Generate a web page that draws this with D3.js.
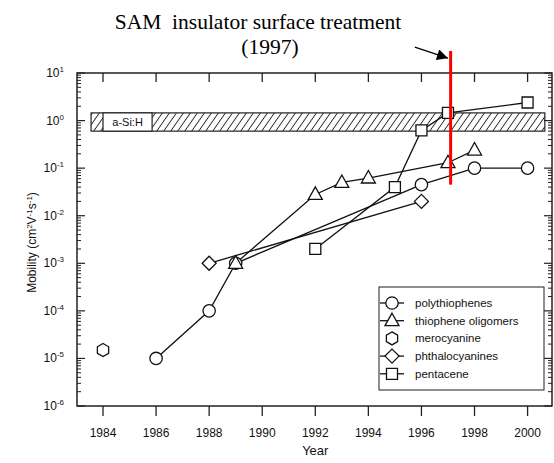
<!DOCTYPE html>
<html><head><meta charset="utf-8">
<script src="https://cdn.jsdelivr.net/npm/d3@7"></script>
<style>body{margin:0;background:#fff}svg{display:block}</style>
</head><body>
<svg id="c" width="554" height="463"></svg>
<script>
// ---- data ----
const polyYears = [1986, 1988, 1989, 1996, 1998, 2000];
const polyVals  = [1e-5, 1e-4, 1e-3, 4.5e-2, 0.1, 0.1];
const oligoYears = [1989, 1992, 1993, 1994, 1997, 1998];
const oligoVals  = [1e-3, 2.8e-2, 5e-2, 6.2e-2, 0.13, 0.24];
const meroYears = [1984];
const meroVals  = [1.5e-5];
const phthYears = [1988, 1996];
const phthVals  = [1e-3, 2e-2];
const pentYears = [1992, 1995, 1996, 1997, 2000];
const pentVals  = [2e-3, 4e-2, 0.62, 1.45, 2.4];
const seriesNames = ["polythiophenes", "thiophene oligomers", "merocyanine", "phthalocyanines", "pentacene"];
const xTicks = [1984, 1986, 1988, 1990, 1992, 1994, 1996, 1998, 2000];
const yExps = [-6, -5, -4, -3, -2, -1, 0, 1];
const bandYears = [1983.55, 2000.65];
const bandVals = [0.6, 1.45];
const bandLabel = "a-Si:H";
const bandLabelYears = [1984.0, 1985.85];
const samYear = 1997.1;
const samVals = [0.045, 29];
const arrowFrom = [1995.75, 35];
const arrowTo = [1997.0, 20.5];
const titleLines = ["SAM  insulator surface treatment", "(1997)"];

// ---- layout ----
const L = 77, R = 552, T = 73, B = 406;
const svg = d3.select("#c");
const x = d3.scaleLinear().domain([1983.02, 2000.92]).range([L, R]);
const y = d3.scaleLog().domain([1e-6, 10]).range([B, T]);
const sans = "'Liberation Sans', Arial, sans-serif";
const ink = "#111";

// hatch pattern
const defs = svg.append("defs");
const pat = defs.append("pattern").attr("id", "hatch").attr("patternUnits", "userSpaceOnUse")
  .attr("width", 7).attr("height", 7).attr("patternTransform", "skewX(-35)");
pat.append("rect").attr("width", 7).attr("height", 7).attr("fill", "#fff");
pat.append("line").attr("x1", 3.5).attr("y1", 0).attr("x2", 3.5).attr("y2", 7).attr("stroke", "#222").attr("stroke-width", 1.1);
defs.append("marker").attr("id", "arr").attr("viewBox", "0 0 10 10").attr("refX", 10).attr("refY", 5)
  .attr("markerWidth", 15).attr("markerHeight", 11).attr("markerUnits", "userSpaceOnUse").attr("orient", "auto")
  .append("path").attr("d", "M0,0 L10,5 L0,10 Z").attr("fill", "#000");

// band
svg.append("rect").attr("x", x(bandYears[0])).attr("y", y(bandVals[1]))
  .attr("width", x(bandYears[1]) - x(bandYears[0])).attr("height", y(bandVals[0]) - y(bandVals[1]))
  .attr("fill", "url(#hatch)").attr("stroke", "#222").attr("stroke-width", 1.2);
svg.append("rect").attr("x", x(bandLabelYears[0])).attr("y", y(bandVals[1]))
  .attr("width", x(bandLabelYears[1]) - x(bandLabelYears[0])).attr("height", y(bandVals[0]) - y(bandVals[1]))
  .attr("fill", "#fff").attr("stroke", "#222").attr("stroke-width", 1.2);
svg.append("text").attr("x", (x(bandLabelYears[0]) + x(bandLabelYears[1])) / 2)
  .attr("y", (y(bandVals[0]) + y(bandVals[1])) / 2 + 4).attr("text-anchor", "middle")
  .attr("font-family", sans).attr("font-size", 11).attr("fill", ink).text(bandLabel);

// frame
svg.append("rect").attr("x", L).attr("y", T).attr("width", R - L).attr("height", B - T)
  .attr("fill", "none").attr("stroke", "#222").attr("stroke-width", 1.5);

// x ticks
const gx = svg.append("g");
xTicks.forEach(t => {
  gx.append("line").attr("x1", x(t)).attr("x2", x(t)).attr("y1", B).attr("y2", B + 10).attr("stroke", "#222").attr("stroke-width", 1.3);
  gx.append("line").attr("x1", x(t)).attr("x2", x(t)).attr("y1", T).attr("y2", T + 9).attr("stroke", "#222").attr("stroke-width", 1.3);
  gx.append("text").attr("x", x(t)).attr("y", 437).attr("text-anchor", "middle")
    .attr("font-family", sans).attr("font-size", 12).attr("fill", ink).text(t);
});
svg.append("text").attr("x", (x(1992))).attr("y", 455).attr("text-anchor", "middle")
  .attr("font-family", sans).attr("font-size", 13).attr("fill", ink).text("Year");

// y ticks
const gy = svg.append("g");
yExps.forEach(e => {
  const v = Math.pow(10, e);
  gy.append("line").attr("x1", L).attr("x2", L + 8).attr("y1", y(v)).attr("y2", y(v)).attr("stroke", "#222").attr("stroke-width", 1.2);
  gy.append("line").attr("x1", R).attr("x2", R - 8).attr("y1", y(v)).attr("y2", y(v)).attr("stroke", "#222").attr("stroke-width", 1.2);
  if (e < 1) for (let k = 2; k <= 9; k++) {
    const yy = y(k * v);
    gy.append("line").attr("x1", L).attr("x2", L + 4).attr("y1", yy).attr("y2", yy).attr("stroke", "#222").attr("stroke-width", 1);
    gy.append("line").attr("x1", R).attr("x2", R - 4).attr("y1", yy).attr("y2", yy).attr("stroke", "#222").attr("stroke-width", 1);
  }
  const t = gy.append("text").attr("x", 64).attr("y", y(v) + 4).attr("text-anchor", "end")
    .attr("font-family", sans).attr("font-size", 12).attr("fill", ink);
  t.append("tspan").text("10");
  t.append("tspan").attr("dy", -5).attr("font-size", 8).text(e);
});
const yl = svg.append("text").attr("transform", `translate(36,${(T + B) / 2 + 3}) rotate(-90)`)
  .attr("text-anchor", "middle").attr("font-family", sans).attr("font-size", 12).attr("fill", ink);
yl.append("tspan").text("Mobility (cm");
yl.append("tspan").attr("dy", -4).attr("font-size", 8).text("2");
yl.append("tspan").attr("dy", 4).text("V");
yl.append("tspan").attr("dy", -4).attr("font-size", 8).text("-1");
yl.append("tspan").attr("dy", 4).text("s");
yl.append("tspan").attr("dy", -4).attr("font-size", 8).text("-1");
yl.append("tspan").attr("dy", 4).text(")");

// symbols
const hexPath = r => { let p = ""; for (let i = 0; i < 6; i++) { const a = Math.PI / 3 * i - Math.PI / 2; p += (i ? "L" : "M") + (r * Math.cos(a)).toFixed(2) + "," + (r * Math.sin(a)).toFixed(2); } return p + "Z"; };
const symbolPaths = {
  circle: d3.symbol(d3.symbolCircle, 120)(),
  triangle: "M0,-7.5L7,5L-7,5Z",
  hexagon: hexPath(6.5),
  diamond: "M0,-7L7,0L0,7L-7,0Z",
  square: "M-5.5,-5.5H5.5V5.5H-5.5Z"
};
const series = [
  { years: polyYears, vals: polyVals, sym: "circle", line: true },
  { years: oligoYears, vals: oligoVals, sym: "triangle", line: true },
  { years: meroYears, vals: meroVals, sym: "hexagon", line: false },
  { years: phthYears, vals: phthVals, sym: "diamond", line: true },
  { years: pentYears, vals: pentVals, sym: "square", line: true }
];
const lineGen = d3.line().x(d => x(d[0])).y(d => y(d[1]));
series.forEach(s => {
  const pts = s.years.map((yr, i) => [yr, s.vals[i]]);
  if (s.line) svg.append("path").attr("d", lineGen(pts)).attr("fill", "none").attr("stroke", "#111").attr("stroke-width", 1.3);
});
series.forEach(s => {
  s.years.forEach((yr, i) => {
    svg.append("path").attr("d", symbolPaths[s.sym]).attr("transform", `translate(${x(yr)},${y(s.vals[i])})`)
      .attr("fill", "#fff").attr("stroke", "#111").attr("stroke-width", 1.3);
  });
});

// legend
const lg = svg.append("g");
lg.append("rect").attr("x", 379).attr("y", 287).attr("width", 165).attr("height", 103)
  .attr("fill", "#fff").attr("stroke", "#333").attr("stroke-width", 1.1);
series.forEach((s, i) => {
  const cy = 303 + i * 17.7;
  if (s.line) lg.append("line").attr("x1", 380).attr("x2", 404).attr("y1", cy).attr("y2", cy).attr("stroke", "#111").attr("stroke-width", 1.3);
  lg.append("path").attr("d", symbolPaths[s.sym]).attr("transform", `translate(392,${cy})`)
    .attr("fill", "#fff").attr("stroke", "#111").attr("stroke-width", 1.3);
  lg.append("text").attr("x", 415).attr("y", cy + 4).attr("font-family", sans).attr("font-size", 11.5)
    .attr("fill", ink).text(seriesNames[i]);
});

// SAM annotation
svg.append("line").attr("x1", x(samYear)).attr("x2", x(samYear)).attr("y1", y(samVals[0])).attr("y2", y(samVals[1]))
  .attr("stroke", "#ff0000").attr("stroke-width", 3);
svg.append("line").attr("x1", x(arrowFrom[0])).attr("y1", y(arrowFrom[1])).attr("x2", x(arrowTo[0])).attr("y2", y(arrowTo[1]))
  .attr("stroke", "#000").attr("stroke-width", 1.2).attr("marker-end", "url(#arr)");
const serif = "'Liberation Serif', 'Times New Roman', serif";
svg.append("text").attr("x", 258).attr("y", 29).attr("text-anchor", "middle").attr("font-family", serif)
  .attr("font-size", 21.5).attr("fill", "#000").attr("xml:space", "preserve").style("white-space", "pre").text(titleLines[0]);
svg.append("text").attr("x", 270).attr("y", 54).attr("text-anchor", "middle").attr("font-family", serif)
  .attr("font-size", 21.5).attr("fill", "#000").text(titleLines[1]);
</script>
</body></html>
